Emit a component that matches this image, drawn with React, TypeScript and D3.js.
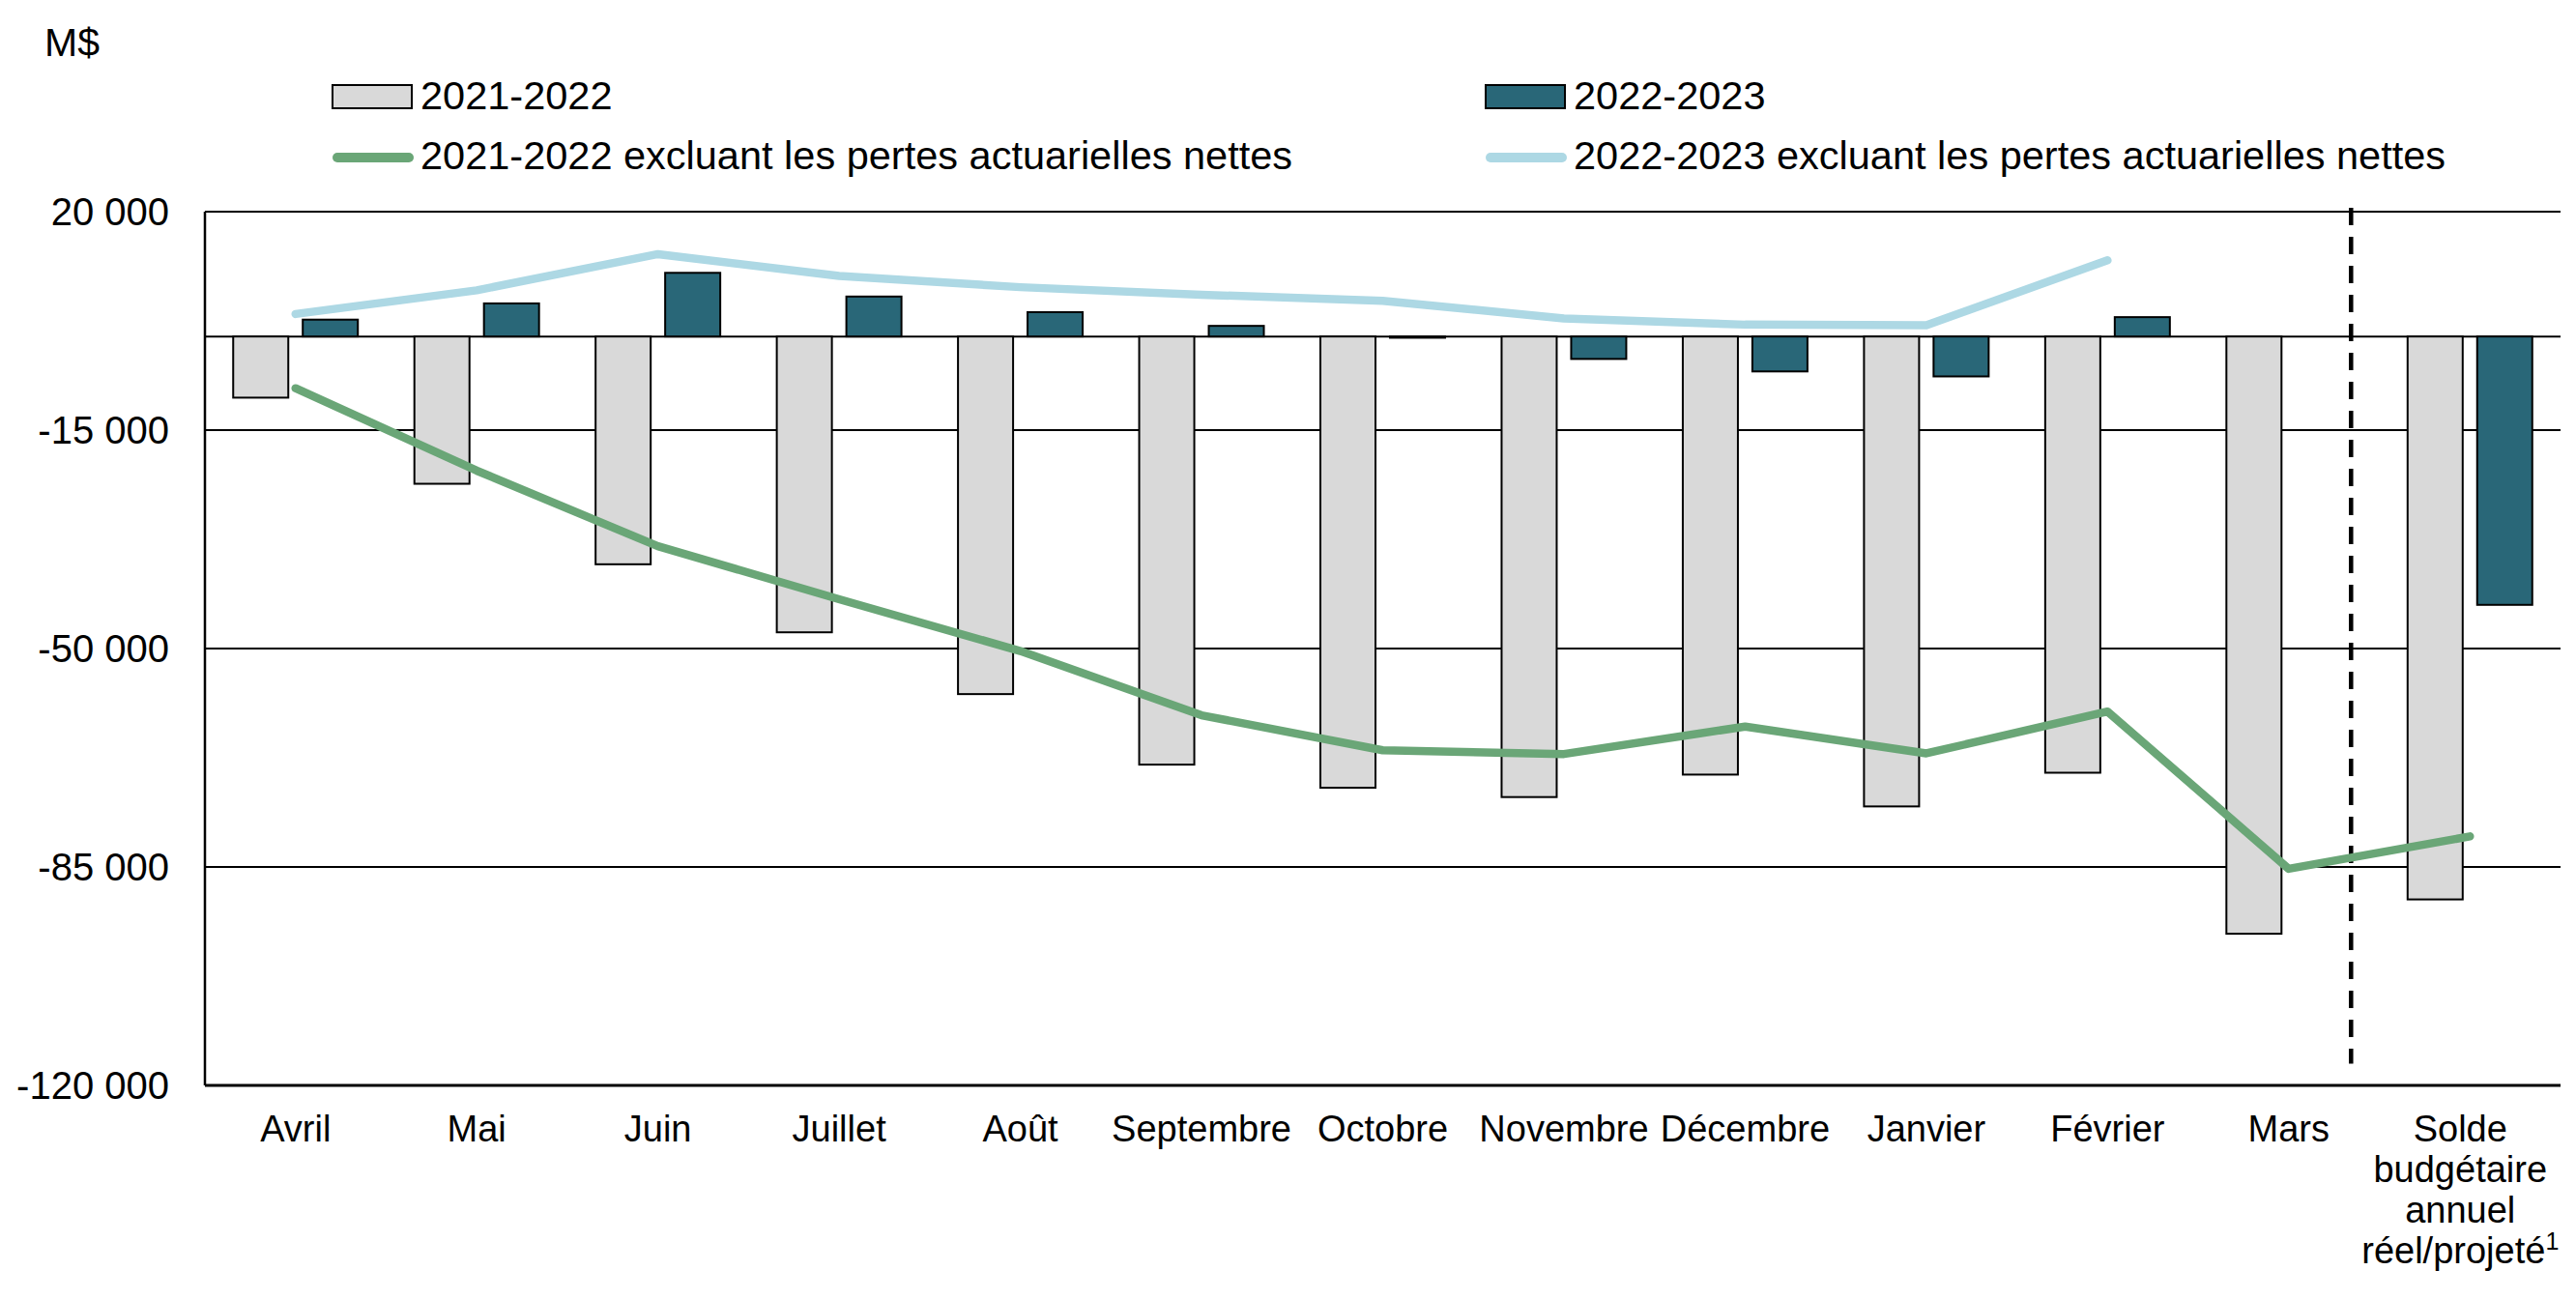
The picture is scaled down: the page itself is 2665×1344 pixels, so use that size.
import React, { useEffect, useRef } from 'react';
import * as d3 from 'd3';

// mois de l'exercice + solde annuel
const categories = ['Avril', 'Mai', 'Juin', 'Juillet', 'Août', 'Septembre', 'Octobre', 'Novembre', 'Décembre', 'Janvier', 'Février', 'Mars', 'Solde'];
const tickLabels: string[][] = [
  ['Avril'], ['Mai'], ['Juin'], ['Juillet'], ['Août'], ['Septembre'], ['Octobre'],
  ['Novembre'], ['Décembre'], ['Janvier'], ['Février'], ['Mars'],
  ['Solde', 'budgétaire', 'annuel', 'réel/projeté'],
];

// M$
const bars2122 = [-9800, -23600, -36500, -47400, -57300, -68600, -72300, -73800, -70200, -75300, -69900, -95700, -90200];
const bars2223: (number | null)[] = [2700, 5300, 10200, 6400, 3900, 1700, -200, -3600, -5600, -6400, 3100, null, -43000];
const line2122 = [-8300, -21500, -33600, -42100, -50400, -60700, -66300, -66900, -62500, -66800, -60100, -85300, -80100];
const line2223: (number | null)[] = [3600, 7400, 13200, 9700, 7900, 6700, 5700, 2900, 1900, 1800, 12200, null, null];

const yTicks = [20000, -15000, -50000, -85000, -120000];

const legendItems = [
  { label: '2021-2022', kind: 'bar', color: '#d9d9d9' },
  { label: '2022-2023', kind: 'bar', color: '#296778' },
  { label: '2021-2022 excluant les pertes actuarielles nettes', kind: 'line', color: '#6aa677' },
  { label: '2022-2023 excluant les pertes actuarielles nettes', kind: 'line', color: '#add8e4' },
];

const App: React.FC = () => {
  const svgRef = useRef<SVGSVGElement | null>(null);

  useEffect(() => {
    if (!svgRef.current) return;

    const width = 2665;
    const height = 1344;
    const margin = { top: 219, right: 16, bottom: 221, left: 212 };
    const font = '"Liberation Sans", Arial, sans-serif';

    const svg = d3.select(svgRef.current)
      .attr('width', width)
      .attr('height', height)
      .style('font-family', font);

    svg.selectAll('*').remove();

    const x0 = d3.scaleBand()
      .domain(categories)
      .range([margin.left, width - margin.right])
      .paddingInner(0.312)
      .paddingOuter(0.156);

    const x1 = d3.scaleBand()
      .domain(['a', 'b'])
      .range([0, x0.bandwidth()])
      .paddingInner(0.208);

    const y = d3.scaleLinear()
      .domain([-120000, 20000])
      .range([height - margin.bottom, margin.top]);

    const cx = (c: string) => x0(c)! + x0.bandwidth() / 2;
    const fmt = (v: number) => d3.format(',')(v).replace(/,/g, ' ').replace('−', '-');

    // grid lines
    svg.append('g')
      .selectAll('line')
      .data([...yTicks, 0])
      .join('line')
      .attr('x1', margin.left)
      .attr('x2', width - margin.right)
      .attr('y1', d => y(d))
      .attr('y2', d => y(d))
      .attr('stroke', '#000')
      .attr('stroke-width', d => (d === -120000 ? 3 : 2));

    // y axis line
    svg.append('line')
      .attr('x1', margin.left)
      .attr('x2', margin.left)
      .attr('y1', y(20000))
      .attr('y2', y(-120000))
      .attr('stroke', '#000')
      .attr('stroke-width', 2.5);

    // y labels
    svg.append('g')
      .selectAll('text')
      .data(yTicks)
      .join('text')
      .attr('x', 175)
      .attr('y', d => y(d))
      .attr('dy', '0.36em')
      .attr('text-anchor', 'end')
      .attr('font-size', 40)
      .text(d => fmt(d));

    svg.append('text')
      .attr('x', 46)
      .attr('y', 58)
      .attr('font-size', 41)
      .text('M$');

    // bars
    const groups = svg.append('g')
      .selectAll('g')
      .data(categories)
      .join('g')
      .attr('transform', c => `translate(${x0(c)},0)`);

    groups.append('rect')
      .attr('x', x1('a')!)
      .attr('width', x1.bandwidth())
      .attr('y', (_, i) => y(Math.max(0, bars2122[i])))
      .attr('height', (_, i) => Math.abs(y(bars2122[i]) - y(0)))
      .attr('fill', '#d9d9d9')
      .attr('stroke', '#000')
      .attr('stroke-width', 2);

    groups.filter((_, i) => bars2223[i] !== null)
      .append('rect')
      .attr('x', x1('b')!)
      .attr('width', x1.bandwidth())
      .attr('y', c => y(Math.max(0, bars2223[categories.indexOf(c)]!)))
      .attr('height', c => Math.abs(y(bars2223[categories.indexOf(c)]!) - y(0)))
      .attr('fill', '#296778')
      .attr('stroke', '#000')
      .attr('stroke-width', 2);

    // dashed separator after Mars
    svg.append('line')
      .attr('x1', x0('Mars')! + x0.bandwidth())
      .attr('x2', x0('Mars')! + x0.bandwidth())
      .attr('y1', y(20000) - 4)
      .attr('y2', y(-116500))
      .attr('stroke', '#000')
      .attr('stroke-width', 4.5)
      .attr('stroke-dasharray', '18 12');

    // lines
    const line = d3.line<number | null>()
      .defined(d => d !== null)
      .x((_, i) => cx(categories[i]))
      .y(d => y(d as number));

    svg.append('path')
      .datum(line2223)
      .attr('d', line)
      .attr('fill', 'none')
      .attr('stroke', '#add8e4')
      .attr('stroke-width', 8.5)
      .attr('stroke-linecap', 'round')
      .attr('stroke-linejoin', 'round');

    svg.append('path')
      .datum(line2122 as (number | null)[])
      .attr('d', line)
      .attr('fill', 'none')
      .attr('stroke', '#6aa677')
      .attr('stroke-width', 8.5)
      .attr('stroke-linecap', 'round')
      .attr('stroke-linejoin', 'round');

    // x labels
    const lastDx = -10;
    const xl = svg.append('g')
      .selectAll('text')
      .data(categories)
      .join('text')
      .attr('y', 1181)
      .attr('text-anchor', 'middle')
      .attr('font-size', 38);

    xl.each(function (_, i) {
      const t = d3.select(this);
      const lines = tickLabels[i];
      const px = cx(categories[i]) + (lines.length > 1 ? lastDx : 0);
      lines.forEach((s, j) => {
        t.append('tspan')
          .attr('x', px)
          .attr('dy', j === 0 ? 0 : 42)
          .text(s);
      });
      if (lines.length > 1) {
        t.append('tspan')
          .attr('font-size', 25)
          .attr('baseline-shift', 'super')
          .text('1');
      }
    });

    // legend
    const legendX = [344, 1537];
    const legendY = [100, 163];
    const lg = svg.append('g')
      .selectAll('g')
      .data(legendItems)
      .join('g')
      .attr('transform', (_, i) => `translate(${legendX[i % 2]},${legendY[Math.floor(i / 2)]})`);

    lg.filter(d => d.kind === 'bar')
      .append('rect')
      .attr('x', 0)
      .attr('y', -12)
      .attr('width', 82)
      .attr('height', 24)
      .attr('fill', d => d.color)
      .attr('stroke', '#000')
      .attr('stroke-width', 2);

    lg.filter(d => d.kind === 'line')
      .append('line')
      .attr('x1', 5)
      .attr('x2', 79)
      .attr('stroke', d => d.color)
      .attr('stroke-width', 10)
      .attr('stroke-linecap', 'round');

    lg.append('text')
      .attr('x', 91)
      .attr('y', (_, i) => (i < 2 ? 13 : 12))
      .attr('font-size', 41.5)
      .text(d => d.label);
  }, []);

  return (
    <svg ref={svgRef} style={{ position: 'absolute', left: 0, top: 0, display: 'block' }}></svg>
  );
};

export default App;
